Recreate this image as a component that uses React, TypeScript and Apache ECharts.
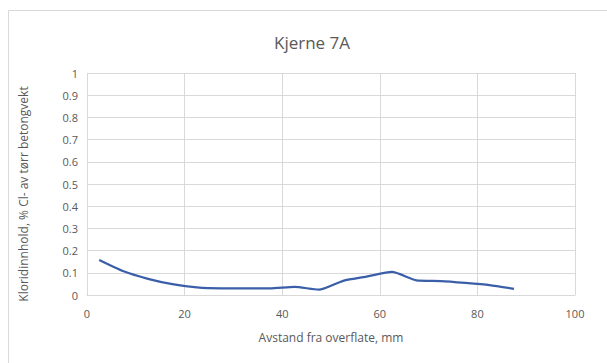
import React, { useEffect, useRef } from "react";
import * as echarts from "echarts";

const title = "Kjerne 7A";
const xName = "Avstand fra overflate, mm";
const yName = "Kloridinnhold, % Cl- av tørr betongvekt";
const depth = [2.5, 7.5, 12.5, 17.5, 22.5, 27.5, 32.5, 37.5, 42.5, 47.5, 52.5, 57.5, 62.5, 67.5, 72.5, 77.5, 82.5, 87.5];
const chloride = [0.158, 0.107, 0.073, 0.049, 0.034, 0.030, 0.030, 0.030, 0.037, 0.024, 0.064, 0.084, 0.104, 0.066, 0.063, 0.055, 0.045, 0.028];

export default function App() {
  const ref = useRef<HTMLDivElement>(null);
  useEffect(() => {
    if (!ref.current) return;
    const chart = echarts.init(ref.current, null, { renderer: "svg" });
    const font = "'Open Sans', 'Noto Sans', sans-serif";
    const textColor = "#595959";
    chart.setOption({
      animation: false,
      backgroundColor: "#ffffff",
      title: {
        text: title,
        left: 307,
        top: 29,
        textAlign: "center",
        textStyle: { color: textColor, fontSize: 17, fontWeight: "normal", fontFamily: font },
      },
      graphic: [
        {
          type: "rect",
          shape: { x: 8.5, y: 10.5, width: 640, height: 400 },
          style: { fill: "none", stroke: "#d9d9d9", lineWidth: 1 },
          silent: true,
        },
        {
          type: "text",
          x: 23,
          y: 194,
          rotation: Math.PI / 2,
          style: {
            text: yName,
            fill: textColor,
            fontSize: 12,
            fontFamily: font,
            textAlign: "center",
            textVerticalAlign: "middle",
          },
          silent: true,
        },
      ],
      grid: { left: 87, right: 32, top: 73, bottom: 68 },
      xAxis: {
        type: "value",
        min: 0,
        max: 100,
        interval: 20,
        name: xName,
        nameLocation: "middle",
        nameGap: 36,
        nameTextStyle: { color: textColor, fontSize: 12, fontFamily: font },
        axisLine: { show: true, lineStyle: { color: "#d9d9d9" } },
        axisTick: { show: false },
        axisLabel: { color: textColor, fontSize: 11, fontFamily: font, margin: 13 },
        splitLine: { show: true, lineStyle: { color: "#d9d9d9" } },
      },
      yAxis: {
        type: "value",
        min: 0,
        max: 1,
        interval: 0.1,
        axisLine: { show: false },
        axisTick: { show: false },
        axisLabel: { color: textColor, fontSize: 11, fontFamily: font, margin: 9 },
        splitLine: { show: true, lineStyle: { color: "#d9d9d9" } },
      },
      series: [
        {
          type: "line",
          data: depth.map((d, i) => [d, chloride[i]]),
          showSymbol: false,
          smooth: 0.2,
          lineStyle: { color: "#3a5fa8", width: 2.25 },
          itemStyle: { color: "#3a5fa8" },
        },
      ],
    });
    return () => chart.dispose();
  }, []);
  return (
    <div
      ref={ref}
      style={{ position: "absolute", left: 0, top: 0, width: 607, height: 363 }}
    />
  );
}
